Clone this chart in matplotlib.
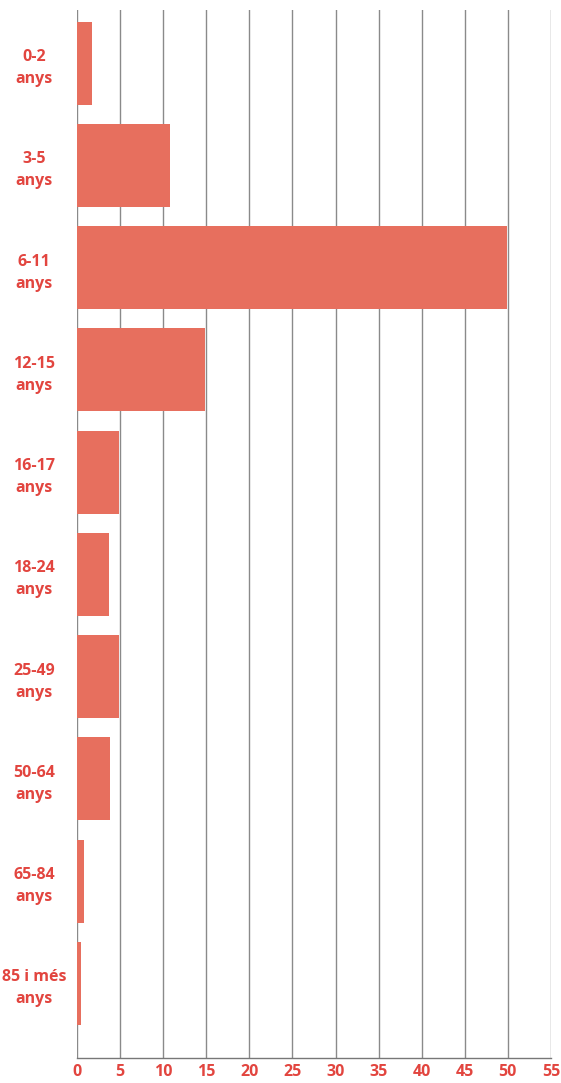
import matplotlib
matplotlib.use('Agg')
import matplotlib.pyplot as plt

# age groups and values
groups = ['0-2\nanys', '3-5\nanys', '6-11\nanys', '12-15\nanys', '16-17\nanys',
          '18-24\nanys', '25-49\nanys', '50-64\nanys', '65-84\nanys', '85 i més\nanys']
values = [1.7, 10.8, 49.9, 14.9, 4.9, 3.7, 4.9, 3.8, 0.8, 0.5]
xticks = list(range(0, 60, 5))

bar_color = '#e76f5e'
text_color = '#e2453f'

plt.rcParams['font.family'] = ['Open Sans', 'DejaVu Sans']

fig = plt.figure(figsize=(5.61, 10.83), dpi=100)
ax = fig.add_axes([0.1373, 0.0231, 0.8447, 0.9677])

pos = list(range(len(groups)))
ax.barh(pos, values, height=0.81, color=bar_color, zorder=2)

ax.set_xlim(0, 55)
ax.set_ylim(9.73, -0.52)
ax.set_xticks(xticks)
ax.set_xticklabels([str(t) for t in xticks], fontsize=11.5, fontweight='bold', color=text_color)
ax.set_yticks(pos)
ax.set_yticklabels(groups, fontsize=11.5, fontweight='bold', color=text_color,
                   ha='center', multialignment='center', linespacing=1.5)
ax.tick_params(axis='y', length=0, pad=31)
ax.tick_params(axis='x', length=0, pad=4)

ax.grid(axis='x', color='#8a8a8a', linewidth=1.0, zorder=0)
for s in ['top', 'right', 'left']:
    ax.spines[s].set_visible(False)
ax.spines['bottom'].set_color('#777777')
ax.spines['bottom'].set_linewidth(1.0)

fig.savefig('out.png', dpi=100)
